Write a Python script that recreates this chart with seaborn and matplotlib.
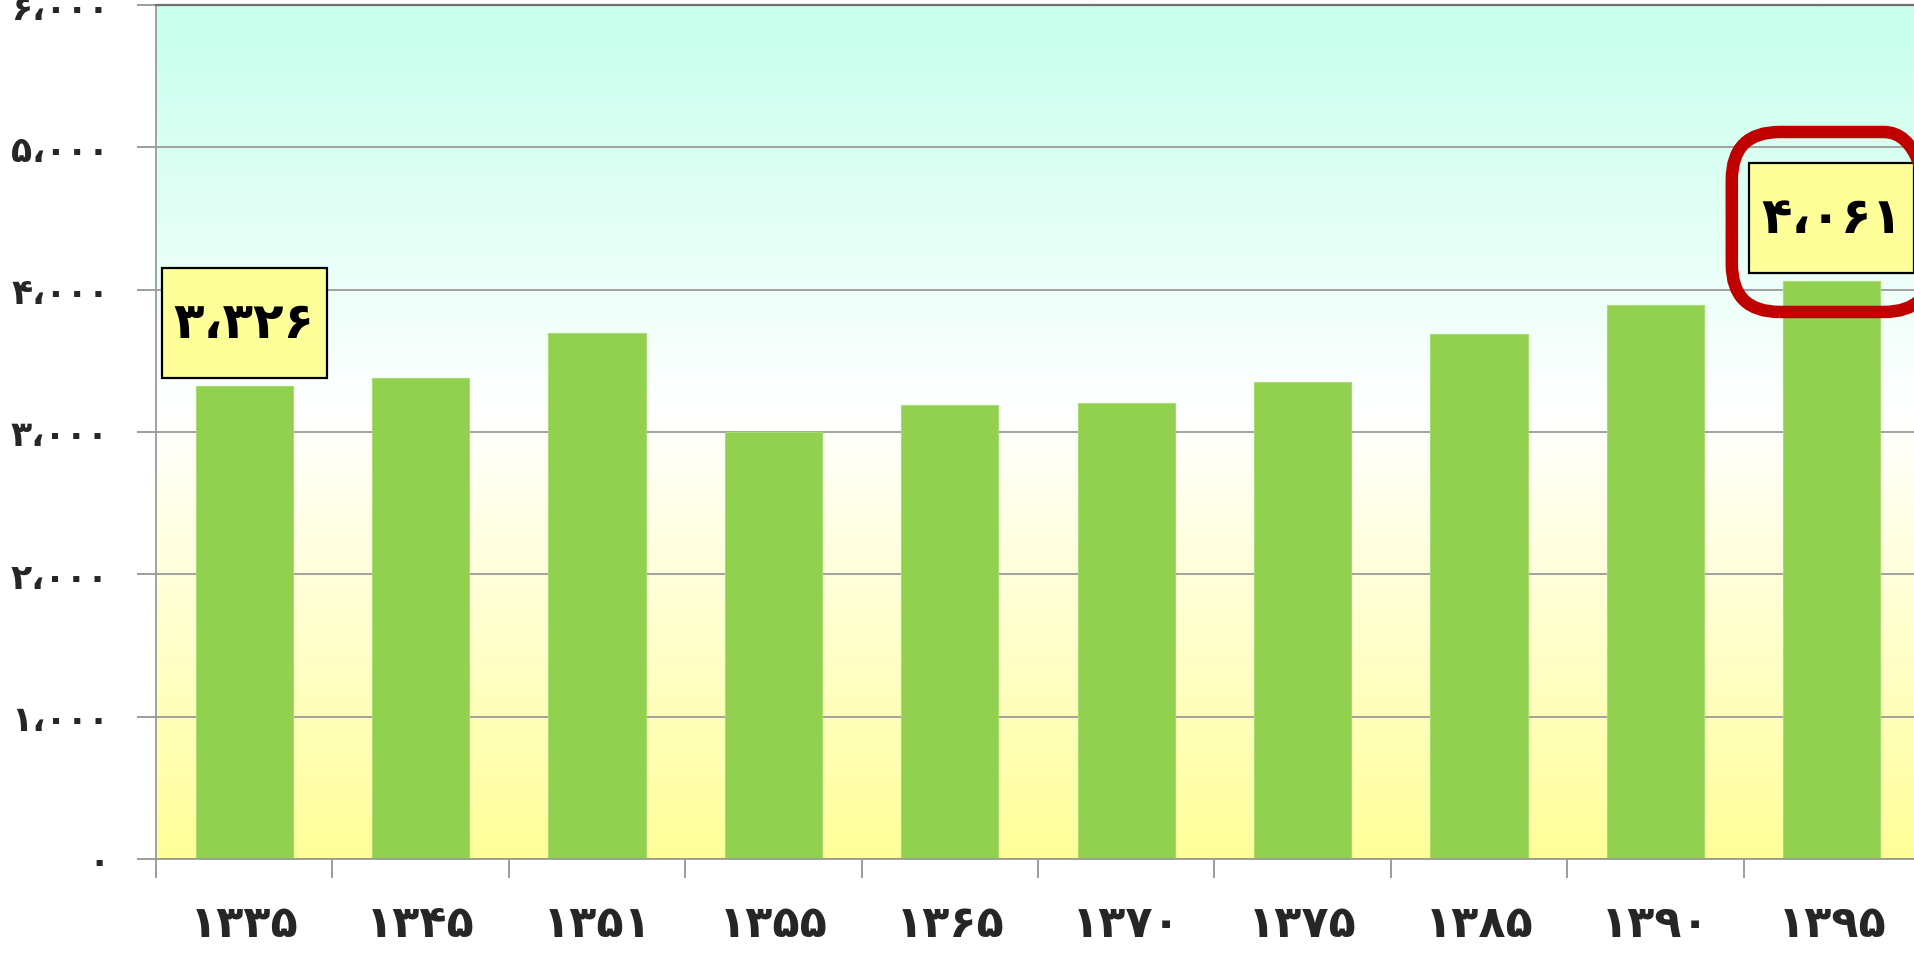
import numpy as np
import pandas as pd
import matplotlib
matplotlib.use("Agg")
import matplotlib.pyplot as plt
import seaborn as sns
from matplotlib.patches import Rectangle, FancyBboxPatch
from matplotlib.colors import LinearSegmentedColormap
from matplotlib.ticker import FuncFormatter
from matplotlib.transforms import IdentityTransform

# census years (Solar Hijri) and values
years = [1335, 1345, 1351, 1355, 1365, 1370, 1375, 1385, 1390, 1395]
values = [3326, 3378, 3694, 3000, 3190, 3202, 3354, 3687, 3893, 4061]
labelled = [0, 9]      # bars that get a value callout
highlight = 9          # bar circled in red
y_ticks = [0, 1000, 2000, 3000, 4000, 5000, 6000]

PERSIAN = str.maketrans("0123456789,", "۰۱۲۳۴۵۶۷۸۹،")


def fa(n, sep=True):
    s = f"{int(n):,}" if sep else str(int(n))
    return s.translate(PERSIAN)


sns.set_theme(style="white")
plt.rcParams["font.family"] = ["DejaVu Sans"]

W, H, DPI = 1915, 954, 100
fig = plt.figure(figsize=(W / DPI, H / DPI), dpi=DPI)
ax = fig.add_axes([156 / W, (H - 860) / H, (1920 - 156) / W, (860 - 6) / H])

df = pd.DataFrame({"year": [fa(y, False) for y in years], "value": values})
sns.barplot(data=df, x="year", y="value", color="#92D050", width=0.55,
            saturation=1, ax=ax, edgecolor="#A6DC70", linewidth=0.8)

# vertical background gradient: yellow -> white -> mint
cmap = LinearSegmentedColormap.from_list(
    "bg", [(0.0, "#FFFF99"), (0.52, "#FFFFFF"), (1.0, "#C6FFEC")])
grad = np.linspace(0, 1, 512).reshape(-1, 1)
ax.imshow(grad, extent=[-0.5, 9.5, 0, 6000], origin="lower", aspect="auto",
          cmap=cmap, zorder=0, interpolation="bilinear")
ax.set_xlim(-0.5, 9.5)
ax.set_ylim(0, 6000)

ax.set_axisbelow(True)
ax.yaxis.grid(True, color="#9A9A9A", linewidth=1.3)
ax.xaxis.grid(False)
ax.set_xlabel("")
ax.set_ylabel("")

ax.set_yticks(y_ticks)
ax.yaxis.set_major_formatter(FuncFormatter(lambda v, p: fa(v)))
ax.tick_params(axis="y", which="major", left=True, length=13.7, width=1.2,
               color="#8C8C8C", pad=20, labelsize=25)
for t in ax.get_yticklabels():
    t.set_fontweight("bold")

ax.set_xticks(range(len(years)))
ax.set_xticklabels([fa(y, False) for y in years], fontsize=32, fontweight="bold")
ax.set_xticks(np.arange(-0.5, len(years), 1.0), minor=True)
ax.tick_params(axis="x", which="major", bottom=False, length=0, pad=31)
ax.tick_params(axis="x", which="minor", bottom=True, length=13.7, width=1.2,
               color="#8C8C8C")

for side in ["left", "bottom"]:
    ax.spines[side].set_color("#9A9A9A")
    ax.spines[side].set_linewidth(1.3)
ax.spines["top"].set_color("#707070")
ax.spines["top"].set_linewidth(1.6)
ax.spines["right"].set_visible(False)

fig.canvas.draw()
renderer = fig.canvas.get_renderer()

# value callouts
for i in labelled:
    v = values[i]
    cx, top = ax.transData.transform((i, v))
    box_h, gap = 110, 8
    txt = ax.text(cx, top + gap + box_h / 2, fa(v), transform=IdentityTransform(),
                  ha="center", va="center", fontsize=36, fontweight="bold",
                  color="black", zorder=6)
    bb = txt.get_window_extent(renderer)
    box_w = bb.width + 24
    ax.add_patch(Rectangle((cx - box_w / 2, top + gap), box_w, box_h,
                           transform=IdentityTransform(), facecolor="#FFFF99",
                           edgecolor="black", linewidth=1.6, zorder=5,
                           clip_on=False))

# red rounded frame around the latest value
cx, top = ax.transData.transform((highlight, values[highlight]))
ax.add_patch(FancyBboxPatch((cx - 100, top - 31), 200, 180,
                            boxstyle="round,pad=0,rounding_size=48",
                            transform=IdentityTransform(), facecolor="none",
                            edgecolor="#C00000", linewidth=9, zorder=7,
                            clip_on=False))

fig.savefig("out.png", dpi=DPI)
